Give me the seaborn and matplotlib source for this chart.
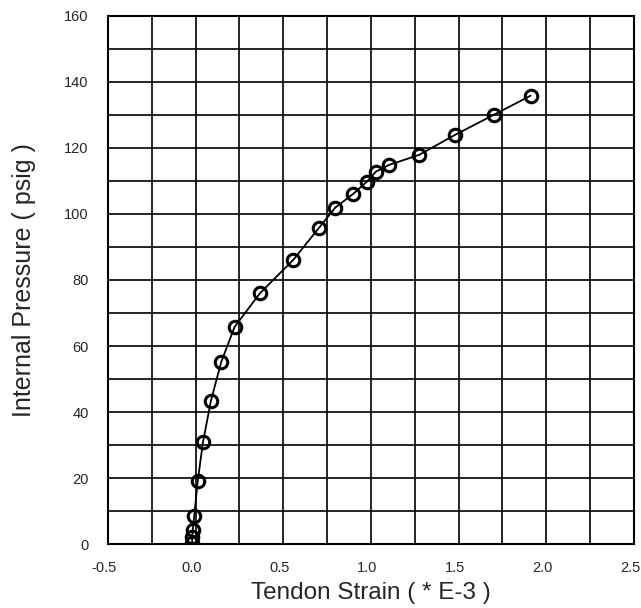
import numpy as np
import pandas as pd
import matplotlib
matplotlib.use("Agg")
import matplotlib.pyplot as plt
import matplotlib.transforms as mtransforms
import seaborn as sns
from matplotlib.ticker import MultipleLocator

# tendon strain (*E-3) vs internal pressure (psig)
strain = [-0.02, -0.02, -0.017, -0.008, 0.012, 0.042, 0.087, 0.146, 0.222, 0.367,
          0.557, 0.702, 0.796, 0.899, 0.977, 1.028, 1.101, 1.275, 1.478, 1.700, 1.910]
pressure = [0.2, 2.2, 4.2, 8.6, 19.2, 31.0, 43.4, 55.2, 65.8, 76.0,
            86.1, 95.7, 101.9, 106.1, 109.8, 112.8, 114.8, 117.9, 123.9, 130.0, 135.8]

x_ticks = [-0.5, 0.0, 0.5, 1.0, 1.5, 2.0, 2.5]
y_ticks = [0, 20, 40, 60, 80, 100, 120, 140, 160]

df = pd.DataFrame({"strain": strain, "pressure": pressure})

sns.set_style("white")
plt.rcParams['font.family'] = ['Liberation Sans', 'DejaVu Sans']

fig = plt.figure(figsize=(6.41, 6.08), dpi=100)
ax = fig.add_axes([0.1685, 0.105, 0.8205, 0.869])

sns.lineplot(data=df, x="strain", y="pressure", sort=False, estimator=None,
             color="black", linewidth=1.3, marker="o", markersize=9,
             markerfacecolor="none", markeredgecolor="black", markeredgewidth=2.2,
             ax=ax)

ax.set_xlim(-0.5, 2.5)
ax.set_ylim(0, 160)
ax.set_xticks(x_ticks)
ax.set_xticklabels([f"{v:.1f}" for v in x_ticks])
ax.set_yticks(y_ticks)
ax.xaxis.set_minor_locator(MultipleLocator(0.25))
ax.yaxis.set_minor_locator(MultipleLocator(10))
ax.grid(True, which="both", color="black", linewidth=1.2)
ax.set_axisbelow(True)
ax.tick_params(which="both", length=0, labelsize=10.5)
ax.tick_params(axis="y", pad=14)
ax.tick_params(axis="x", pad=12)
for s in ax.spines.values():
    s.set_color("black")
    s.set_linewidth(1.5)

# nudge x tick labels a little to the left, like the original
shift = mtransforms.ScaledTranslation(-4 / 100, 0, fig.dpi_scale_trans)
for lbl in ax.get_xticklabels():
    lbl.set_transform(lbl.get_transform() + shift)

ax.set_xlabel("Tendon Strain ( * E-3 )", fontsize=17.5, labelpad=5)
ax.set_ylabel("Internal Pressure ( psig )", fontsize=18, labelpad=20)

fig.savefig("out.png", dpi=100)
